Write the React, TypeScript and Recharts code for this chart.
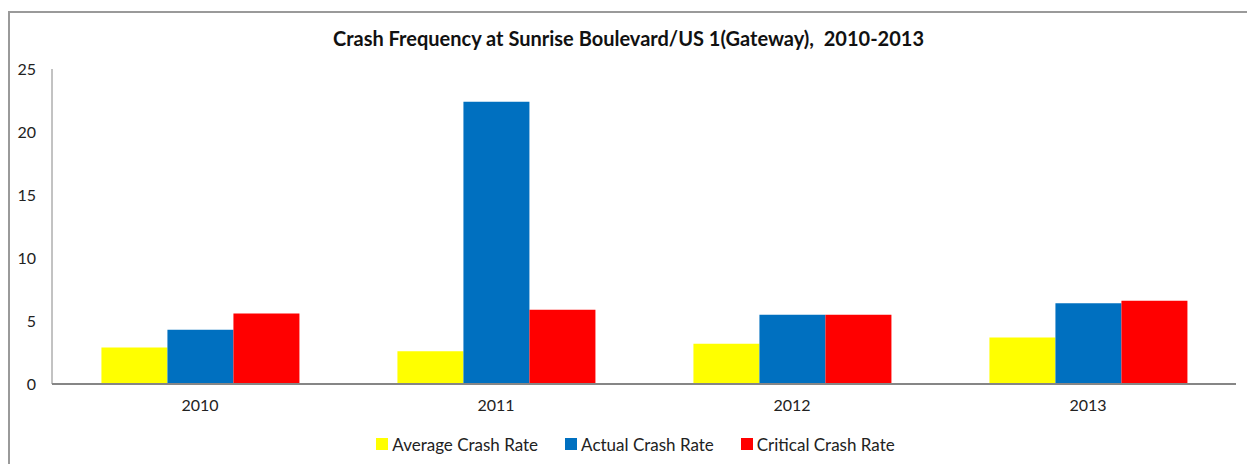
import { BarChart, Bar, XAxis, YAxis, Legend } from 'recharts';

const years = ['2010', '2011', '2012', '2013'];
const averageRate = [2.9, 2.6, 3.2, 3.7];
const actualRate = [4.3, 22.4, 5.5, 6.4];
const criticalRate = [5.6, 5.9, 5.5, 6.6];
const yTicks = [0, 5, 10, 15, 20, 25];

const seriesInfo = [
  { key: 'average', name: 'Average Crash Rate', color: '#FFFF00' },
  { key: 'actual', name: 'Actual Crash Rate', color: '#0070C0' },
  { key: 'critical', name: 'Critical Crash Rate', color: '#FF0000' },
];

const data = years.map((y, i) => ({
  year: y,
  average: averageRate[i],
  actual: actualRate[i],
  critical: criticalRate[i],
}));

const FONT = 'Lato, "Open Sans", sans-serif';

function LegendBox() {
  return (
    <div style={{ display: 'flex', justifyContent: 'center', alignItems: 'center', height: 24, fontFamily: FONT, fontSize: 17, color: '#222', paddingLeft: 52 }}>
      {seriesInfo.map(s => (
        <div key={s.key} style={{ display: 'flex', alignItems: 'center', marginRight: 27 }}>
          <span style={{ width: 12, height: 12, background: s.color, display: 'inline-block', marginRight: 4 }} />
          <span>{s.name}</span>
        </div>
      ))}
    </div>
  );
}

export default function App() {
  return (
    <div style={{ position: 'relative', width: 1237, height: 456, marginTop: 3, border: '2px solid #9a9a9a', background: '#fff', fontFamily: FONT }}>
      <div style={{ position: 'absolute', top: 13, left: 0, width: '100%', textAlign: 'center', fontWeight: 'bold', fontSize: 20, color: '#111' }}>
        Crash Frequency at Sunrise Boulevard/US 1(Gateway),&nbsp; 2010-2013
      </div>
      <BarChart width={1237} height={456} data={data} margin={{ top: 56, right: 11, left: 0, bottom: 13 }}
        barCategoryGap="16.7%" barGap={0}>
        <XAxis dataKey="year" height={48} tickLine={false} tickSize={0} tickMargin={16}
          axisLine={{ stroke: '#868686', strokeWidth: 2 }}
          tick={{ fontSize: 16, fill: '#222', fontFamily: FONT }} />
        <YAxis width={42} domain={[0, 25]} ticks={yTicks} tickLine={false} tickSize={0} tickMargin={16}
          axisLine={{ stroke: '#868686', strokeWidth: 1 }}
          tick={{ fontSize: 16, fill: '#222', fontFamily: FONT }} />
        <Legend verticalAlign="bottom" height={24} content={() => <LegendBox />} />
        {seriesInfo.map(s => (
          <Bar key={s.key} dataKey={s.key} name={s.name} fill={s.color} isAnimationActive={false} />
        ))}
      </BarChart>
    </div>
  );
}
